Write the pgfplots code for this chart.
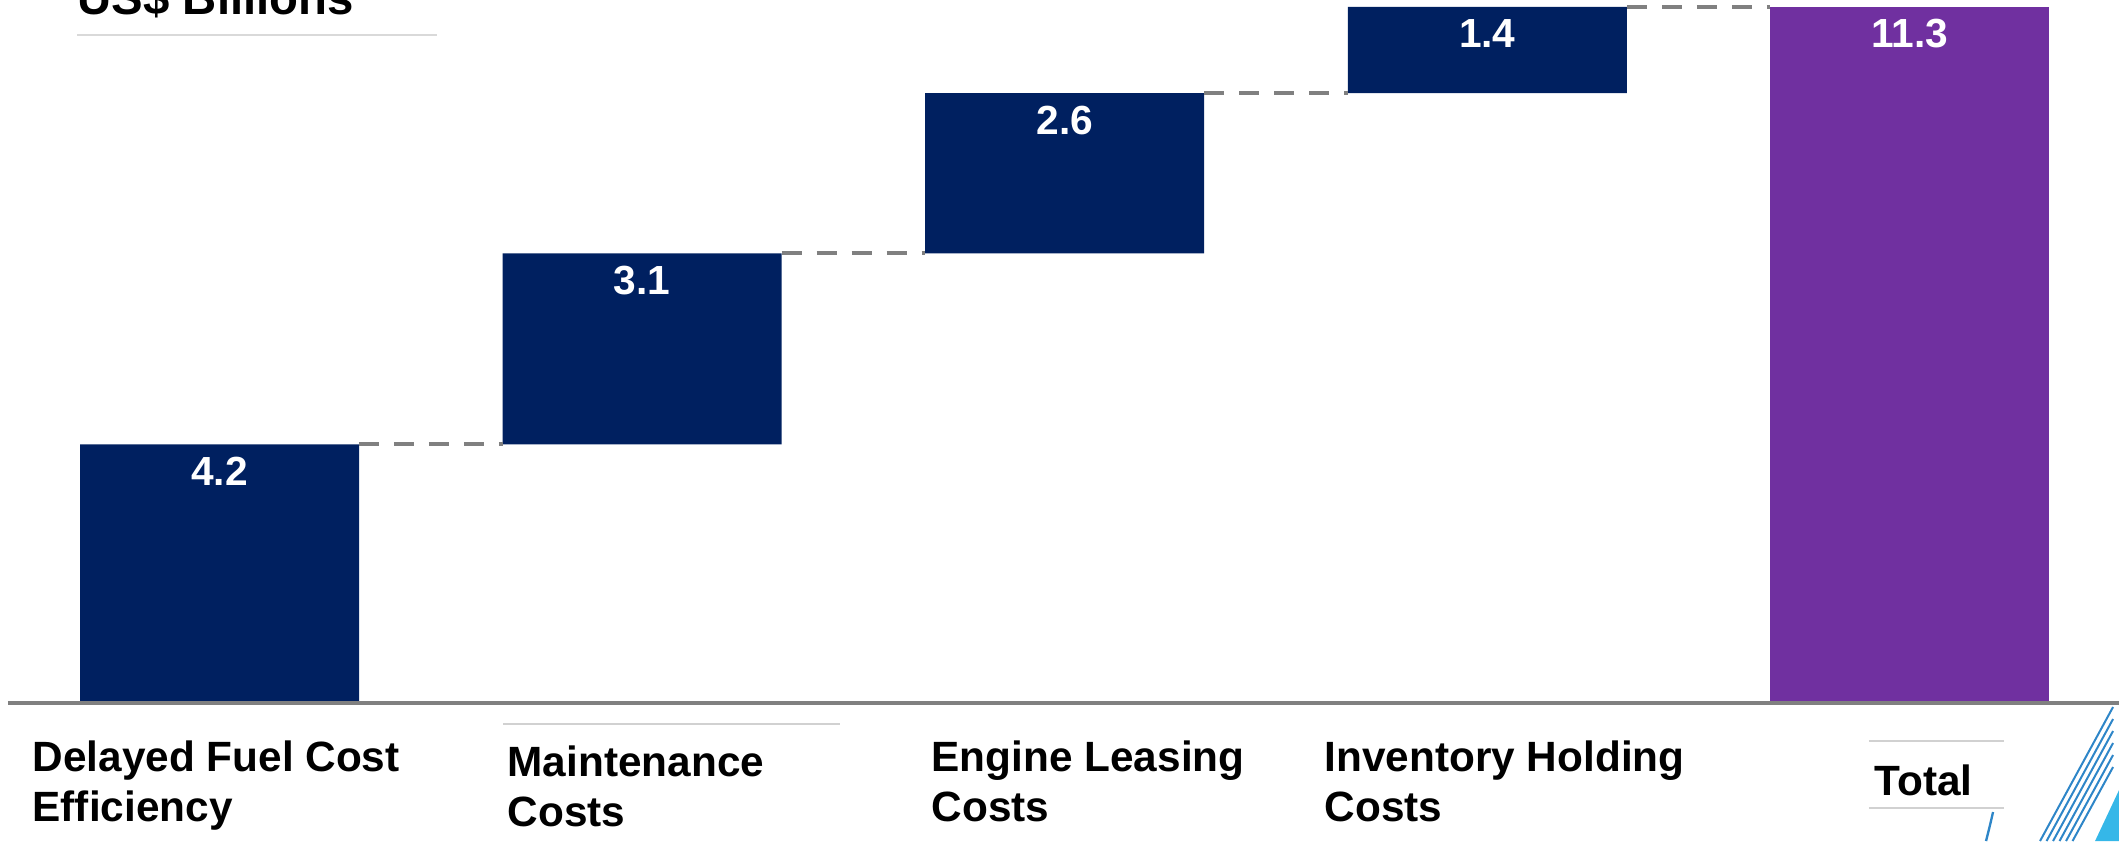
\documentclass[border=0pt]{standalone}
\usepackage{pgfplots}
\pgfplotsset{compat=1.18}
\usepackage{fontspec}
\setmainfont{Liberation Sans}

\definecolor{navy}{HTML}{002060}
\definecolor{barpurple}{HTML}{7030A0}
\definecolor{dashgray}{HTML}{808080}
\definecolor{logoblue}{HTML}{2E86C8}
\definecolor{logolight}{HTML}{35B7E8}

% same frame for both axes: 1 px of the reference = 0.3pt
\pgfplotsset{frame/.style={
    scale only axis, width=635.7pt, height=252.3pt,
    xmin=-0.5194, xmax=4.4948, ymin=-2.240, ymax=11.412,
    hide axis, clip=false}}

\begin{document}
\begin{tikzpicture}
% bars (waterfall: invisible base + visible step)
\begin{axis}[frame, name=A, at={(0,0)}, anchor=south west,
    ybar stacked, bar width=83.7pt]
\addplot [draw=none, fill=none] coordinates {(0,0) (1,4.2) (2,7.3) (3,9.9) (4,0)};
\addplot [draw=none, fill=navy] coordinates {(0,4.2) (1,3.1) (2,2.6) (3,1.4) (4,0)};
\addplot [draw=none, fill=barpurple] coordinates {(0,0) (1,0) (2,0) (3,0) (4,11.3)};
\end{axis}

% connectors, values, labels
\begin{axis}[frame, at={(0,0)}, anchor=south west]
\addplot [dashgray, line width=1.2pt, dash pattern=on 6pt off 4.5pt] coordinates {(0.330,4.2) (0.670,4.2)};
\addplot [dashgray, line width=1.2pt, dash pattern=on 6pt off 4.5pt] coordinates {(1.330,7.3) (1.670,7.3)};
\addplot [dashgray, line width=1.2pt, dash pattern=on 6pt off 4.5pt] coordinates {(2.330,9.9) (2.670,9.9)};
\addplot [dashgray, line width=1.2pt, dash pattern=on 6pt off 4.5pt] coordinates {(3.330,11.3) (3.670,11.3)};

\addplot [draw=none, mark=none, nodes near coords, point meta=explicit symbolic,
    every node near coord/.append style={anchor=center, yshift=-8.1pt, text=white,
        font=\bfseries\fontsize{12.2}{14}\selectfont}]
    coordinates {(0,4.2) [4.2] (1,7.3) [3.1] (2,9.9) [2.6] (3,11.3) [1.4] (4,11.3) [11.3]};

% baseline
\draw [dashgray, line width=1.2pt] (axis cs:-0.5005,0) -- (axis cs:4.4948,0);

% title
\node [anchor=base west, inner sep=0pt, font=\bfseries\fontsize{14.2}{17}\selectfont]
    at (axis cs:-0.337,11.169) {US\$ Billions};
\draw [black!15, line width=0.6pt] (axis cs:-0.337,10.84) -- (axis cs:0.514,10.84);

% category labels
\begin{scope}[every node/.style={anchor=north west, align=left, inner sep=0pt,
        font=\bfseries\fontsize{12.7}{15}\selectfont}]
\node at (axis cs:-0.4437,-0.601) {Delayed Fuel Cost\\Efficiency};
\node at (axis cs:0.6803,-0.682) {Maintenance\\Costs};
\node at (axis cs:1.6836,-0.601) {Engine Leasing\\Costs};
\node at (axis cs:2.6136,-0.601) {Inventory Holding\\Costs};
\node at (axis cs:3.915,-0.990) {Total};
\end{scope}
\draw [black!18, line width=0.5pt] (axis cs:0.6709,-0.341) -- (axis cs:1.468,-0.341);
\draw [black!18, line width=0.5pt] (axis cs:3.903,-0.617) -- (axis cs:4.2227,-0.617);
\draw [black!18, line width=0.5pt] (axis cs:3.903,-1.705) -- (axis cs:4.2227,-1.705);
\end{axis}

% corner logo fragment (pixel coordinates of the reference)
\begin{scope}[shift={(A.north west)}, x=0.3pt, y=-0.3pt]
\fill [logolight] (2119,790) -- (2095,841) -- (2119,841) -- cycle;
\foreach \k in {0,...,5}
  \draw [logoblue, line width=0.6pt] (2113,707+12*\k) -- (2040+6.5*\k,841);
\draw [logoblue, line width=0.7pt] (1993,812) .. controls (1990,825) .. (1986,841);
\end{scope}

\pgfresetboundingbox
\path [use as bounding box] (A.south west) rectangle (A.north east);
\end{tikzpicture}
\end{document}
